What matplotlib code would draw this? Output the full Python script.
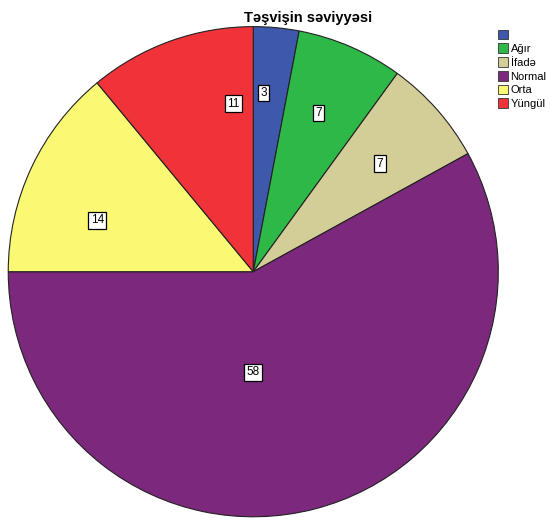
import numpy as np
import matplotlib
matplotlib.use("Agg")
import matplotlib.pyplot as plt
from matplotlib.patches import Patch

plt.rcParams['font.family'] = ['Liberation Sans', 'DejaVu Sans']

# kateqoriyalar və faizlər
categories = ['', 'Ağır', 'İfadə', 'Normal', 'Orta', 'Yüngül']
values = [3, 7, 7, 58, 14, 11]
colors = ['#3E58AC', '#2EB848', '#D3CE97', '#7C287D', '#FBF873', '#EF3338']

# etiketlərin yerləşməsi: bucaq düzəlişi (dərəcə) və radius
label_shift = [2, 1, -1, 0, 7, -13]
label_r = [0.73, 0.70, 0.68, 0.41, 0.67, 0.69]

fig = plt.figure(figsize=(5.5, 5.22), dpi=100)
ax = fig.add_axes([0.015, 0.01, 0.891, 0.939])

wedges, _ = ax.pie(values, colors=colors, startangle=90, counterclock=False,
                   wedgeprops=dict(edgecolor='#222222', linewidth=0.8))
ax.set_aspect('auto')
ax.set_xlim(-1, 1)
ax.set_ylim(-1, 1)

for i, (w, v) in enumerate(zip(wedges, values)):
    mid = (w.theta1 + w.theta2) / 2 + label_shift[i]
    if v == max(values):
        mid = -90
    mid = np.deg2rad(mid)
    r = label_r[i]
    ax.text(r * np.cos(mid), r * np.sin(mid), str(v), ha='center', va='center',
            fontsize=8.5,
            bbox=dict(boxstyle='square,pad=0.2', facecolor='white',
                      edgecolor='black', linewidth=0.9))

fig.text(0.56, 0.965, 'Təşvişin səviyyəsi', ha='center', va='center',
         fontsize=10.5, fontweight='bold')

handles = [Patch(facecolor=c, edgecolor='#333333', linewidth=0.6) for c in colors]
fig.legend(handles, categories, loc='upper left', bbox_to_anchor=(0.906, 0.943),
           frameon=False, fontsize=8, handlelength=0.85, handleheight=0.95,
           handletextpad=0.25, labelspacing=0.28, borderpad=0, borderaxespad=0)

plt.savefig('out.png', dpi=100)
